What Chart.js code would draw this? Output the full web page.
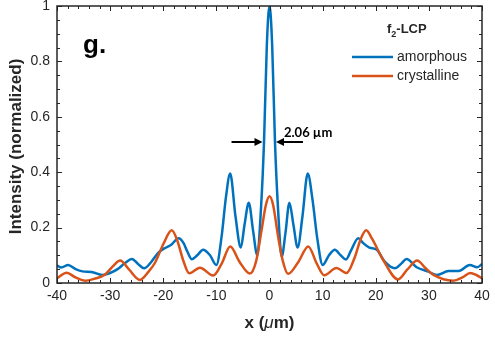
<!DOCTYPE html>
<html>
<head>
<meta charset="utf-8">
<script src="https://cdn.jsdelivr.net/npm/chart.js@4/dist/chart.umd.min.js"></script>
<style>
  html, body { margin: 0; padding: 0; background: #fff; }
</style>
</head>
<body>
<canvas id="chart" width="495" height="338"></canvas>
<script>
// amorphous curve (blue)
const xAmorphous = [-40, -39.2, -37.9, -36.5, -35.2, -33.5, -31.5, -30, -28.6, -27.2,
  -25.9, -24.7, -23.6, -22.3, -21, -19.8, -18.5, -17.1, -16.2, -15.5,
  -14.6, -13.6, -12.5, -11.2, -10, -9, -8.2, -7.4, -6.4, -5.4,
  -4.7, -3.9, -3.1, -2.3, -1.6, -1.03, -0.5, 0, 0.5, 1.03,
  1.6, 2.3, 3.0, 3.75, 4.5, 5.3, 6.2, 7.2, 8.1, 9,
  10, 11.2, 12.3, 13.4, 14.4, 15.4, 16.7, 17.6, 18.8, 20.2,
  21.7, 23.6, 24.8, 25.8, 27.7, 29.9, 31.5, 33.7, 35.6, 37.7,
  39.1, 40]
const yAmorphous = [0.064, 0.056, 0.065, 0.05, 0.042, 0.040, 0.029, 0.036, 0.05, 0.072,
  0.087, 0.068, 0.053, 0.075, 0.108, 0.125, 0.138, 0.162, 0.145, 0.115,
  0.086, 0.1, 0.12, 0.1, 0.065, 0.17, 0.31, 0.395, 0.24, 0.128,
  0.21, 0.29, 0.19, 0.1, 0.27, 0.51, 0.86, 1.0, 0.86, 0.51,
  0.27, 0.095, 0.18, 0.29, 0.21, 0.128, 0.24, 0.395, 0.3, 0.16,
  0.065, 0.1, 0.12, 0.1, 0.085, 0.12, 0.162, 0.145, 0.128, 0.12,
  0.077, 0.053, 0.07, 0.087, 0.057, 0.041, 0.029, 0.043, 0.043, 0.065,
  0.057, 0.068]

// crystalline curve (orange)
const xCrystalline = [-40, -38.2, -36.5, -34.7, -33, -31, -29.5, -28.1, -26.5, -24.4,
  -22.8, -21.5, -20, -18.4, -17.3, -16.3, -15.1, -13.1, -10.6, -9,
  -7.4, -5.6, -3.7, -2.5, -1.5, -0.7, 0, 0.7, 1.6, 2.5,
  3.5, 5.4, 7.3, 8.9, 10.3, 12.6, 14.5, 16, 17.2, 18.2,
  19.3, 21.4, 24.2, 26, 27.8, 29.3, 30.8, 34.6, 36.3, 37.8,
  39, 40]
const yCrystalline = [0.017, 0.037, 0.02, 0.008, 0.015, 0.03, 0.06, 0.081, 0.05, 0.011,
  0.04, 0.075, 0.14, 0.19, 0.15, 0.085, 0.035, 0.055, 0.027, 0.07,
  0.132, 0.075, 0.034, 0.08, 0.19, 0.28, 0.313, 0.28, 0.17, 0.08,
  0.033, 0.075, 0.132, 0.07, 0.028, 0.054, 0.036, 0.09, 0.16, 0.19,
  0.16, 0.083, 0.013, 0.05, 0.081, 0.055, 0.03, 0.008, 0.02, 0.036,
  0.028, 0.017]

const xTicks = [-40, -30, -20, -10, 0, 10, 20, 30, 40]
const yTicks = [0, 0.2, 0.4, 0.6, 0.8, 1]
const yTickLabels = ['0', '0.2', '0.4', '0.6', '0.8', '1']
const fwhm = [-1.03, 1.03]
const fwhmLabel = '2.06 \u00b5m'
const seriesNames = ['amorphous', 'crystalline']
const seriesColors = ['#0072BD', '#D95319']

const axisColor = '#262626'
const font = '"Liberation Sans", Arial, sans-serif'

const toPoints = (xs, ys) => xs.map((x, i) => ({x: x, y: ys[i]}))

const decorations = {
  id: 'decorations',
  afterDatasetsDraw(chart) {
    const {ctx, chartArea: a, scales: {x, y}} = chart
    ctx.save()
    ctx.strokeStyle = axisColor
    ctx.fillStyle = axisColor
    ctx.lineWidth = 1

    // ticks pointing inward on all four sides
    ctx.beginPath()
    for (let v = -40; v <= 40; v += 2) {
      const px = Math.round(x.getPixelForValue(v)) + 0.5
      const len = v % 10 === 0 ? 5 : 3
      ctx.moveTo(px, a.bottom); ctx.lineTo(px, a.bottom - len)
      ctx.moveTo(px, a.top); ctx.lineTo(px, a.top + len)
    }
    for (let i = 0; i <= 20; i++) {
      const py = Math.round(y.getPixelForValue(i * 0.05)) + 0.5
      const len = i % 4 === 0 ? 5 : 3
      ctx.moveTo(a.left, py); ctx.lineTo(a.left + len, py)
      ctx.moveTo(a.right, py); ctx.lineTo(a.right - len, py)
    }
    ctx.stroke()
    ctx.lineWidth = 1.5
    ctx.strokeRect(a.left, a.top, a.right - a.left, a.bottom - a.top)

    // FWHM arrows
    ctx.fillStyle = '#000'
    ctx.strokeStyle = '#000'
    ctx.lineWidth = 2
    const ay = Math.round(y.getPixelForValue(0.51))
    const lTip = x.getPixelForValue(fwhm[0]) - 1.5
    const rTip = x.getPixelForValue(fwhm[1]) + 1
    const arrow = (tail, tip) => {
      const dir = Math.sign(tip - tail)
      ctx.beginPath()
      ctx.moveTo(tail, ay); ctx.lineTo(tip - dir * 6, ay)
      ctx.stroke()
      ctx.beginPath()
      ctx.moveTo(tip, ay)
      ctx.lineTo(tip - dir * 8, ay - 4)
      ctx.lineTo(tip - dir * 8, ay + 4)
      ctx.closePath()
      ctx.fill()
    }
    arrow(lTip - 31, lTip)
    arrow(rTip + 27, rTip)
    ctx.font = 'bold 13px Lato, "Open Sans", sans-serif'
    ctx.textAlign = 'left'
    ctx.textBaseline = 'alphabetic'
    ctx.fillText(fwhmLabel, rTip + 8, ay - 5)

    // panel letter
    ctx.font = 'bold 26px ' + font
    ctx.fillText('g.', a.left + 26, a.top + 47)

    // legend
    ctx.fillStyle = axisColor
    let lx = a.right - 95
    const ty = a.top + 27
    ctx.font = 'bold 13px ' + font
    ctx.fillText('f', lx, ty)
    lx += ctx.measureText('f').width
    ctx.font = 'bold 9px ' + font
    ctx.fillText('2', lx, ty + 4)
    lx += ctx.measureText('2').width
    ctx.font = 'bold 13px ' + font
    ctx.fillText('-LCP', lx, ty)
    ctx.font = '14px ' + font
    ctx.textBaseline = 'middle'
    seriesNames.forEach((name, i) => {
      const ry = a.top + 51 + i * 19
      ctx.strokeStyle = seriesColors[i]
      ctx.lineWidth = 2.5
      ctx.beginPath()
      ctx.moveTo(a.right - 130, ry); ctx.lineTo(a.right - 89, ry)
      ctx.stroke()
      ctx.fillStyle = axisColor
      ctx.fillText(name, a.right - 85, ry)
    })

    // axis titles
    ctx.textBaseline = 'alphabetic'
    ctx.textAlign = 'left'
    const parts = [['x (', 'bold 17px '], ['\u03bc', 'italic 17px '], ['m)', 'bold 17px ']]
    let total = 0
    parts.forEach(p => { ctx.font = p[1] + font; total += ctx.measureText(p[0]).width })
    let tx = (a.left + a.right) / 2 - total / 2
    parts.forEach(p => {
      ctx.font = p[1] + font
      ctx.fillText(p[0], tx, 328)
      tx += ctx.measureText(p[0]).width
    })
    ctx.translate(20.5, (a.top + a.bottom) / 2 + 2)
    ctx.rotate(-Math.PI / 2)
    ctx.textAlign = 'center'
    ctx.font = 'bold 17px ' + font
    ctx.fillText('Intensity (normalized)', 0, 0)
    ctx.restore()
  }
}

new Chart(document.getElementById('chart'), {
  type: 'line',
  data: {
    datasets: [
      {
        label: seriesNames[0],
        data: toPoints(xAmorphous, yAmorphous),
        borderColor: seriesColors[0],
        borderWidth: 2.5,
        pointRadius: 0,
        cubicInterpolationMode: 'monotone',
        order: 1
      },
      {
        label: seriesNames[1],
        data: toPoints(xCrystalline, yCrystalline),
        borderColor: seriesColors[1],
        borderWidth: 2.5,
        pointRadius: 0,
        cubicInterpolationMode: 'monotone',
        order: 0
      }
    ]
  },
  options: {
    responsive: false,
    animation: false,
    layout: {padding: {top: 6, right: 13, left: 0, bottom: 0}},
    plugins: {legend: {display: false}, tooltip: {enabled: false}},
    scales: {
      x: {
        type: 'linear',
        min: -40,
        max: 40,
        afterBuildTicks: (scale) => { scale.ticks = xTicks.map(v => ({value: v})) },
        afterFit: (scale) => {
          scale.height = 55
          scale.paddingLeft = 0
          scale.paddingRight = 0
        },
        grid: {display: false, drawTicks: false},
        border: {display: false},
        ticks: {color: axisColor, padding: 5, maxRotation: 0, font: {family: font, size: 14}}
      },
      y: {
        min: 0,
        max: 1,
        afterBuildTicks: (scale) => { scale.ticks = yTicks.map(v => ({value: v})) },
        afterFit: (scale) => {
          scale.width = 57
          scale.paddingTop = 0
          scale.paddingBottom = 0
        },
        grid: {display: false, drawTicks: false},
        border: {display: false},
        ticks: {
          color: axisColor,
          padding: 7,
          font: {family: font, size: 14},
          callback: (value, index) => yTickLabels[index]
        }
      }
    }
  },
  plugins: [decorations]
})
</script>
</body>
</html>
